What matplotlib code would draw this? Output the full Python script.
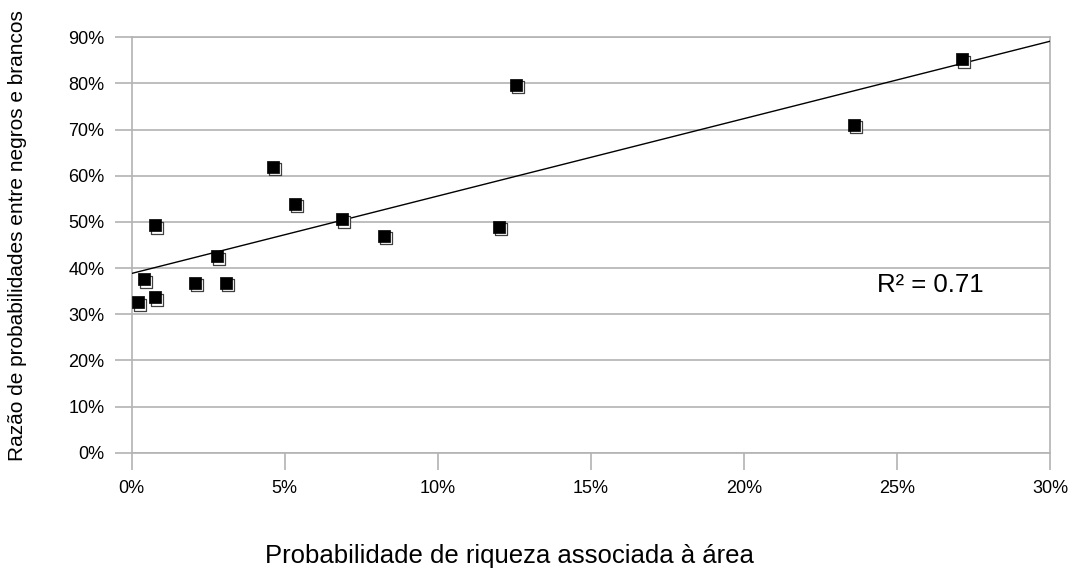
import numpy as np
import matplotlib.pyplot as plt
import matplotlib.transforms as mtransforms
from matplotlib.ticker import FuncFormatter

plt.rcParams['font.family'] = ['Liberation Sans', 'DejaVu Sans']

# probabilidade de riqueza (%) e razão de probabilidades (%)
riqueza = [0.2, 0.39, 0.76, 0.76, 2.08, 2.8, 3.07, 4.63, 5.32, 6.86, 8.23, 12.0, 12.54, 23.6, 27.12]
razao = [32.6, 37.6, 33.7, 49.3, 36.8, 42.6, 36.8, 61.9, 53.9, 50.6, 47.0, 48.9, 79.7, 71.0, 85.2]
x_ticks = [0, 5, 10, 15, 20, 25, 30]
y_ticks = [0, 10, 20, 30, 40, 50, 60, 70, 80, 90]
r2_label = 'R² = 0.71'

grey = '#b3b3b3'

fig = plt.figure(figsize=(10.73, 5.72), dpi=100)
ax = fig.add_axes([0.1227, 0.2086, 0.8559, 0.7262])

ax.set_xlim(0, 30)
ax.set_ylim(0, 90)
ax.set_xticks(x_ticks)
ax.set_yticks(y_ticks)
pct = FuncFormatter(lambda v, _: f'{v:.0f}%')
ax.xaxis.set_major_formatter(pct)
ax.yaxis.set_major_formatter(pct)

ax.grid(axis='y', color=grey, linewidth=1.2)
ax.set_axisbelow(True)
for side in ['left', 'right', 'top', 'bottom']:
    ax.spines[side].set_color(grey)
    ax.spines[side].set_linewidth(1.2)
ax.tick_params(axis='both', colors=grey, length=12.5, width=1.2, labelsize=13,
               labelcolor='black', pad=7)

# linha de tendência linear
coef = np.polyfit(riqueza, razao, 1)
xs = np.array([0, 30])
ax.plot(xs, np.polyval(coef, xs), color='black', linewidth=1.0, zorder=3)

# sombra dos marcadores
shadow = mtransforms.offset_copy(ax.transData, fig=fig, x=2.0, y=-2.5, units='dots')
ax.scatter(riqueza, razao, marker='s', s=78, facecolor='white', edgecolor='#404040',
           linewidth=0.9, transform=shadow, zorder=4)
ax.scatter(riqueza, razao, marker='s', s=78, facecolor='black', edgecolor='black',
           linewidth=0.5, zorder=5)

ax.text(24.36, 36.3, r2_label, fontsize=18.5, va='center', ha='left')

fig.text(0.475, 0.028, 'Probabilidade de riqueza associada à área', fontsize=18.5,
         ha='center', va='center')
fig.text(0.016, 0.589, 'Razão de probabilidades entre negros e brancos', fontsize=15,
         ha='center', va='center', rotation=90)

fig.savefig('out.png', dpi=100, facecolor='white')
